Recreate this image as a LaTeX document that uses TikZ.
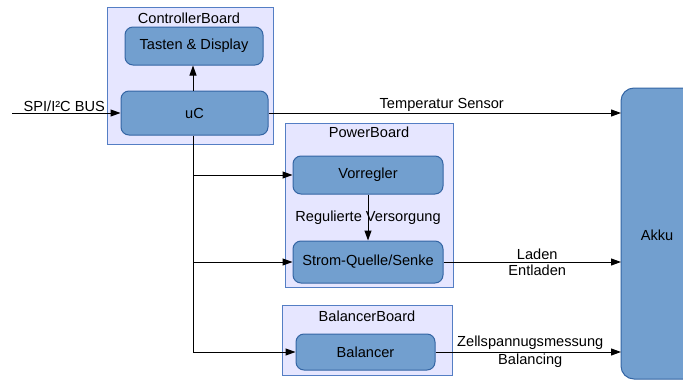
\documentclass[tikz,border=0pt]{standalone}
\usepackage{fontspec}
\setmainfont{Liberation Sans}
\usetikzlibrary{arrows.meta,positioning}
\definecolor{boardfill}{RGB}{230,230,255}
\definecolor{boardline}{RGB}{84,126,196}
\definecolor{blockfill}{RGB}{114,159,207}
\definecolor{blockline}{RGB}{52,101,164}
\tikzset{
  board/.style={draw=boardline, fill=boardfill, line width=1pt, inner sep=0pt},
  block/.style={draw=blockline, fill=blockfill, line width=1pt, rounded corners=8pt,
    inner sep=0pt, font=\fontsize{14.6}{16.5}\selectfont},
  title/.style={inner sep=0pt, font=\fontsize{14.6}{16.5}\selectfont},
  lbl/.style={inner sep=1.5pt, font=\fontsize{14.6}{16.5}\selectfont},
  wire/.style={line width=1pt},
  arr/.style={wire, -{Triangle[length=10pt,width=7pt]}},
}
\begin{document}
\begin{tikzpicture}[x=1pt, y=-1pt]
\useasboundingbox (0,0) rectangle (683,380);
\clip (0,0) rectangle (683,380);

% boards
\node[board, minimum width=166pt, minimum height=137pt] (ctrl) at (190,75.5) {};
\node[board, minimum width=168pt, minimum height=164pt] (power) at (369,205.5) {};
\node[board, minimum width=170pt, minimum height=70pt] (bal) at (367,340) {};
\node[title] (ctrlt) at (189,18) {ControllerBoard};
\node[title] (powert) at (369,132) {PowerBoard};
\node[title] (balt) at (367,316) {BalancerBoard};

% blocks
\node[block, minimum width=138pt, minimum height=38pt] (keys) at (194,46) {Tasten \& Display};
\node[block, minimum width=147pt, minimum height=44pt] (uc) at (194.5,113) {uC};
\node[block, minimum width=150pt, minimum height=38pt] (vreg) at (368,175) {Vorregler};
\node[block, minimum width=150pt, minimum height=42pt] (src) at (368,262) {Strom-Quelle/Senke};
\node[block, minimum width=139pt, minimum height=36pt] (balancer) at (365.5,352) {Balancer};

% battery
\draw[draw=blockline, fill=blockfill, line width=1pt, rounded corners=13pt]
  (621,88) rectangle (710,379);
\node[title] (akku) at (657,235) {Akku};
\coordinate (akkuw) at (621,235);

% bus input
\coordinate (spiin) at (12,113);
\draw[arr] (spiin) -- node[lbl, above, xshift=-2pt, inner sep=1pt] {SPI/I²C BUS} (uc.west);

% controller internals
\draw[arr] (uc.north -| 193,0) -- (keys.south -| 193,0);

% temperature sensor
\draw[arr] (uc.east) -- node[lbl, above, inner sep=1pt, xshift=-3pt] {Temperatur Sensor} (uc.east -| akkuw);

% trunk to the boards
\coordinate (tr) at (193,0);
\draw[wire] (uc.south -| tr) -- (balancer.west -| tr);
\draw[arr] (vreg.west -| tr) -- (vreg.west);
\draw[arr] (src.west -| tr) -- (src.west);
\draw[arr] (balancer.west -| tr) -- (balancer.west);

% supply chain
\draw[arr] (vreg.south) -- node[lbl] {Regulierte Versorgung} (src.north);

% outputs to the battery
\draw[arr] (src.east) -- node[lbl, above, inner sep=2pt, xshift=5pt] {Laden}
  node[lbl, below, inner sep=2pt, xshift=5pt] {Entladen} (src.east -| akkuw);
\draw[arr] (balancer.east) -- node[lbl, above, inner sep=1.5pt, xshift=2pt] {Zellspannugsmessung}
  node[lbl, below, inner sep=1.5pt, xshift=2pt] {Balancing} (balancer.east -| akkuw);
\end{tikzpicture}
\end{document}
